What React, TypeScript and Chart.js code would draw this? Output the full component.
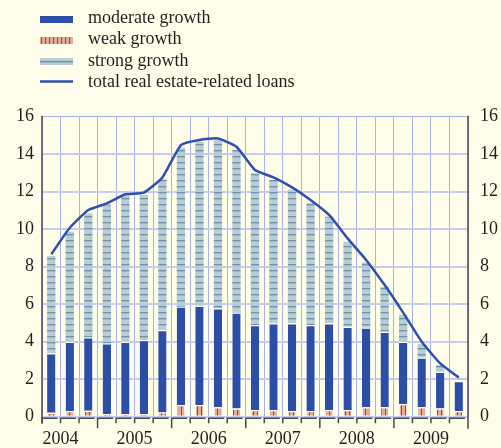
import React, { useEffect, useRef } from "react";
import { Chart, registerables } from "chart.js";

Chart.register(...registerables);

const quarters = [
  "2004 Q2", "2004 Q3", "2004 Q4",
  "2005 Q1", "2005 Q2", "2005 Q3", "2005 Q4",
  "2006 Q1", "2006 Q2", "2006 Q3", "2006 Q4",
  "2007 Q1", "2007 Q2", "2007 Q3", "2007 Q4",
  "2008 Q1", "2008 Q2", "2008 Q3", "2008 Q4",
  "2009 Q1", "2009 Q2", "2009 Q3", "2009 Q4",
];
const yearLabels = ["2004", "2005", "2006", "2007", "2008", "2009"];

const weakGrowth = [0.21, 0.3, 0.32, 0.14, 0.14, 0.14, 0.23, 0.62, 0.62, 0.5, 0.44, 0.36, 0.36, 0.3, 0.3, 0.36, 0.36, 0.5, 0.5, 0.68, 0.5, 0.44, 0.3];
const moderateGrowth = [3.17, 3.7, 3.91, 3.77, 3.86, 3.95, 4.39, 5.25, 5.3, 5.28, 5.12, 4.53, 4.62, 4.68, 4.59, 4.62, 4.44, 4.25, 4.03, 3.32, 2.66, 1.96, 1.6];
const strongGrowth = [5.19, 5.87, 6.61, 7.41, 7.77, 7.73, 8.04, 8.48, 8.75, 8.98, 8.66, 8.09, 7.64, 7.14, 6.49, 5.69, 4.53, 3.48, 2.4, 1.42, 0.72, 0.36, 0];
const totalLoans = [8.66, 10.08, 11.02, 11.38, 11.86, 11.95, 12.76, 14.49, 14.76, 14.84, 14.4, 13.16, 12.76, 12.23, 11.56, 10.76, 9.51, 8.36, 7.02, 5.55, 4.0, 2.84, 2.08];

const legendLabels = ["moderate growth", "weak growth", "strong growth", "total real estate-related loans"];

const BG = "#fefde9";
const BLUE = "#2d4ea7";
const LINE_BLUE = "#2f4fae";
const FONT = "'Liberation Serif', 'Times New Roman', serif";
const TEXT = "#231f20";

function makeStrongPattern(): CanvasPattern | string {
  const c = document.createElement("canvas");
  c.width = 6;
  c.height = 6;
  const g = c.getContext("2d");
  if (!g) return "#b9ccd6";
  g.fillStyle = "#bacdd7";
  g.fillRect(0, 0, 6, 6);
  g.fillStyle = "#6c96a8";
  g.fillRect(0, 0, 6, 1);
  g.fillStyle = "#9ab8c5";
  g.fillRect(0, 1, 6, 1);
  return g.createPattern(c, "repeat") || "#b9ccd6";
}

function makeWeakPattern(): CanvasPattern | string {
  const c = document.createElement("canvas");
  c.width = 4;
  c.height = 4;
  const g = c.getContext("2d");
  if (!g) return "#e0a693";
  g.fillStyle = "#e2ab9a";
  g.fillRect(0, 0, 4, 4);
  g.fillStyle = "#c23a2c";
  g.fillRect(1, 0, 1, 4);
  return g.createPattern(c, "repeat") || "#e0a693";
}

export default function App() {
  const ref = useRef<HTMLCanvasElement | null>(null);

  useEffect(() => {
    document.body.style.margin = "0";
    document.body.style.background = BG;
    const canvas = ref.current;
    if (!canvas) return;
    const strongPat = makeStrongPattern();
    const weakPat = makeWeakPattern();

    const customPlugin = {
      id: "custom",
      beforeDraw(chart: any) {
        const ctx = chart.ctx;
        ctx.save();
        ctx.fillStyle = BG;
        ctx.fillRect(0, 0, chart.width, chart.height);
        ctx.restore();
      },
      afterDraw(chart: any) {
        const ctx = chart.ctx;
        const { left, right, top, bottom } = chart.chartArea;
        const n = quarters.length;
        const step = (right - left) / n;
        ctx.save();
        // axes lines
        ctx.strokeStyle = "#4a4a4a";
        ctx.lineWidth = 1.5;
        ctx.beginPath();
        ctx.moveTo(left, top - 1);
        ctx.lineTo(left, bottom + 7);
        ctx.moveTo(right, top - 1);
        ctx.lineTo(right, bottom + 12);
        ctx.stroke();
        // x axis bracket ticks
        const y0 = bottom + 1.5;
        ctx.beginPath();
        for (let i = 0; i < n; i++) {
          const bx = left + i * step;
          const long = i % 4 === 3;
          const end = long ? y0 + 10 : y0 + 5;
          ctx.moveTo(bx, end);
          ctx.lineTo(bx, y0);
          ctx.lineTo(bx + step - 3, y0);
        }
        ctx.stroke();
        // year labels
        ctx.fillStyle = TEXT;
        ctx.font = `18px ${FONT}`;
        ctx.textAlign = "center";
        ctx.textBaseline = "middle";
        yearLabels.forEach((lab, k) => {
          ctx.fillText(lab, left + (1 + 4 * k) * step, 439);
        });
        // legend
        const sx = 40;
        const sw = 33;
        ctx.fillStyle = BLUE;
        ctx.fillRect(sx, 16, sw, 7);
        ctx.fillStyle = weakPat;
        ctx.fillRect(sx, 37, sw, 7);
        ctx.fillStyle = "#bacdd7";
        ctx.fillRect(sx, 58, sw, 7);
        ctx.fillStyle = "#6c96a8";
        ctx.fillRect(sx, 61, sw, 1.5);
        ctx.strokeStyle = LINE_BLUE;
        ctx.lineWidth = 2.5;
        ctx.beginPath();
        ctx.moveTo(sx, 81.5);
        ctx.lineTo(sx + sw, 81.5);
        ctx.stroke();
        ctx.fillStyle = TEXT;
        ctx.textAlign = "left";
        ctx.textBaseline = "alphabetic";
        const bases = [23, 44, 66, 87];
        legendLabels.forEach((lab, i) => ctx.fillText(lab, 88, bases[i]));
        ctx.restore();
      },
    };

    const chart = new Chart(canvas, {
      type: "bar",
      data: {
        labels: quarters,
        datasets: [
          {
            type: "line",
            label: legendLabels[3],
            data: totalLoans,
            yAxisID: "y2",
            borderColor: LINE_BLUE,
            borderWidth: 2.5,
            pointRadius: 0,
            tension: 0.15,
            order: 0,
          } as any,
          {
            label: legendLabels[1],
            data: weakGrowth,
            backgroundColor: weakPat as any,
            borderColor: "#ffffff",
            borderWidth: { top: 1.2, left: 0, right: 0, bottom: 0 },
            barPercentage: 0.38,
            categoryPercentage: 1,
            yAxisID: "y",
            order: 1,
          },
          {
            label: legendLabels[0],
            data: moderateGrowth,
            backgroundColor: BLUE,
            borderColor: "#ffffff",
            borderWidth: { top: 1.2, left: 0, right: 0, bottom: 0 },
            barPercentage: 0.45,
            categoryPercentage: 1,
            yAxisID: "y",
            order: 1,
          },
          {
            label: legendLabels[2],
            data: strongGrowth,
            backgroundColor: strongPat as any,
            borderWidth: 0,
            barPercentage: 0.45,
            categoryPercentage: 1,
            yAxisID: "y",
            order: 1,
          },
        ],
      },
      options: {
        responsive: false,
        animation: false,
        layout: { padding: { top: 116.7, left: 0, right: 0, bottom: 0 } },
        plugins: {
          legend: { display: false },
          tooltip: { enabled: false },
        },
        scales: {
          x: {
            stacked: true,
            offset: true,
            grid: {
              offset: true,
              color: "#a9b1ea",
              lineWidth: 1,
              drawTicks: false,
            },
            border: { display: false },
            ticks: { display: false },
            afterFit(scale: any) {
              scale.height = 31.3;
            },
          },
          y: {
            stacked: true,
            position: "left",
            min: 0,
            max: 16,
            ticks: {
              stepSize: 2,
              padding: 8,
              color: TEXT,
              font: { family: FONT, size: 18 },
            },
            grid: {
              drawTicks: false,
              color: (c: any) => (c.tick && c.tick.value === 16 ? "#a9b1ea" : "#c6ccf0"),
              lineWidth: (c: any) => (c.tick && c.tick.value === 16 ? 1 : 2),
            },
            border: { display: false },
            afterFit(scale: any) {
              scale.width = 42;
            },
          },
          y2: {
            position: "right",
            min: 0,
            max: 16,
            ticks: {
              stepSize: 2,
              padding: 12,
              color: TEXT,
              font: { family: FONT, size: 18 },
            },
            grid: { display: false, drawTicks: false },
            border: { display: false },
            afterFit(scale: any) {
              scale.width = 33;
            },
          },
        },
      },
      plugins: [customPlugin],
    });

    return () => chart.destroy();
  }, []);

  return (
    <div style={{ width: 501, height: 448, background: BG }}>
      <canvas ref={ref} width={501} height={448} style={{ display: "block" }} />
    </div>
  );
}
